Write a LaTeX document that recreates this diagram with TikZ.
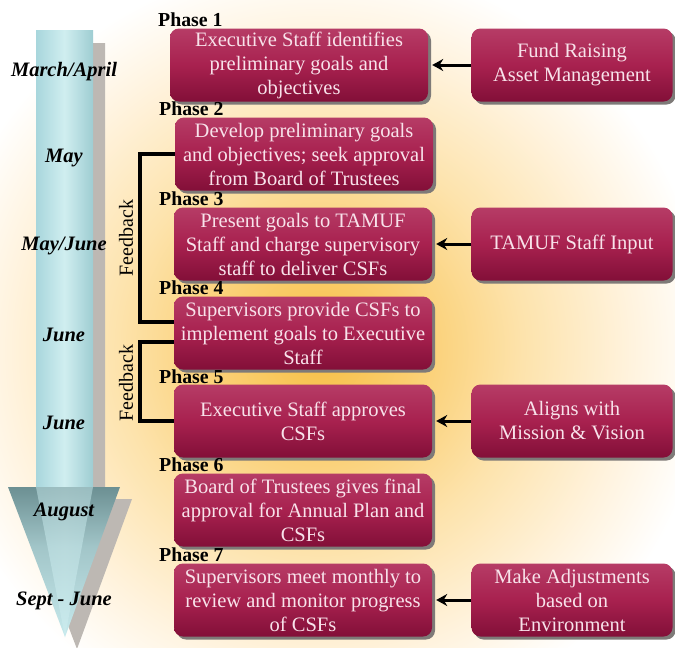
\documentclass[tikz,border=0pt]{standalone}
\usepackage{fontspec}
\setmainfont{Liberation Serif}
\usetikzlibrary{shadows,arrows.meta}

\definecolor{glowA}{HTML}{F7BF45}
\definecolor{glowB}{HTML}{FACE70}
\definecolor{glowC}{HTML}{FDE3AC}
\definecolor{glowD}{HTML}{FFF3DE}
\definecolor{bxtop}{HTML}{B63C66}
\definecolor{bxmid}{HTML}{A8214F}
\definecolor{bxbot}{HTML}{820F38}
\definecolor{bxtext}{HTML}{F8E2EA}
\definecolor{boxshadow}{HTML}{7E7A78}
\definecolor{shaftL}{HTML}{A8D6DC}
\definecolor{shaftM}{HTML}{D0EEF0}
\definecolor{shaftR}{HTML}{9ECDD2}
\definecolor{headtop}{HTML}{6C9093}
\definecolor{headbot}{HTML}{C6E9EC}
\definecolor{arrowshadow}{HTML}{BDB8B3}

% radial glow: 25bp is the edge of the filled circle
\pgfdeclareradialshading{glow}{\pgfpoint{0bp}{0bp}}{%
  color(0bp)=(glowA); color(6bp)=(glowB); color(13bp)=(glowC);
  color(20bp)=(glowD); color(25bp)=(white); color(50bp)=(white)}
% arrow head: darker rim at the top, light towards the tip
\pgfdeclareverticalshading{headshade}{100bp}{%
  color(0bp)=(headbot); color(25bp)=(headbot); color(55bp)=(headbot!60!headtop);
  color(75bp)=(headtop); color(100bp)=(headtop)}

\tikzset{
  boxbase/.style={rounded corners=9pt, minimum height=73pt, inner sep=0pt,
    top color=bxtop, bottom color=bxbot, middle color=bxmid,
    text=bxtext, align=center, font=\fontsize{20.5}{24}\selectfont,
    general shadow={fill=boxshadow, shadow xshift=3pt, shadow yshift=-3pt}},
  phasebox/.style={boxbase, minimum width=258pt},
  sidebox/.style={boxbase, minimum width=201pt},
  phaselbl/.style={anchor=base west, inner sep=0pt, font=\fontsize{19.8}{22}\selectfont\bfseries},
  month/.style={inner sep=0pt, font=\fontsize{20.5}{22}\selectfont\bfseries\itshape},
  fbtext/.style={inner sep=0pt, rotate=90, font=\fontsize{20}{22}\selectfont},
  conn/.style={line width=3pt, -{Stealth[length=11pt,width=12pt]}},
  bracket/.style={line width=3.5pt}
}

\begin{document}
\begin{tikzpicture}[x=1pt,y=-1pt]
\useasboundingbox (0,0) rectangle (675,648);
\clip (0,0) rectangle (675,648);
\fill[white] (0,0) rectangle (675,648);
% warm glow behind the phases
\shade[shading=glow] (320,350) circle (390pt);

% timeline arrow: shadow, shaft, head
\fill[arrowshadow] (48,43) -- (105,43) -- (105,499) -- (132,499) -- (77,649) -- (20,499) -- (48,499) -- cycle;
\shade[left color=shaftL, right color=shaftR, middle color=shaftM]
  (36,30) rectangle (93,488);
\shade[shading=headshade]
  (8,487) -- (120,487) -- (65,637) -- cycle;
\shade[left color=headbot, right color=headbot, middle color=shaftM, opacity=0.5]
  (36,487) -- (93,487) -- (65,637) -- cycle;

% months
\node[month] (m1) at (64,72)  {March/April};
\node[month] (m2) at (64,158) {May};
\node[month] (m3) at (64,246) {May/June};
\node[month] (m4) at (64,335) {June};
\node[month] (m5) at (64,423) {June};
\node[month] (m6) at (64,512) {August};
\node[month] (m7) at (64,601) {Sept - June};

% phase boxes
\node[phasebox] (p1) at (299,65)  {Executive Staff identifies\\preliminary goals and\\objectives};
\node[phasebox] (p2) at (304,154) {Develop preliminary goals\\and objectives; seek approval\\from Board of Trustees};
\node[phasebox] (p3) at (303,244) {Present goals to TAMUF\\Staff and charge supervisory\\staff to deliver CSFs};
\node[phasebox] (p4) at (303,333) {Supervisors provide CSFs to\\implement goals to Executive\\Staff};
\node[phasebox] (p5) at (303,421) {Executive Staff approves\\CSFs};
\node[phasebox] (p6) at (303,510) {Board of Trustees gives final\\approval for Annual Plan and\\CSFs};
\node[phasebox] (p7) at (303,600) {Supervisors meet monthly to\\review and monitor progress\\of CSFs};

% phase labels
\node[phaselbl] (l1) at (158,26)  {Phase 1};
\node[phaselbl] (l2) at (159,115) {Phase 2};
\node[phaselbl] (l3) at (159,205) {Phase 3};
\node[phaselbl] (l4) at (159,294) {Phase 4};
\node[phaselbl] (l5) at (159,383) {Phase 5};
\node[phaselbl] (l6) at (159,471) {Phase 6};
\node[phaselbl] (l7) at (159,561) {Phase 7};

% input boxes
\node[sidebox] (r1) at (572,65)  {Fund Raising\\Asset Management};
\node[sidebox] (r3) at (572,244) {TAMUF Staff Input};
\node[sidebox] (r5) at (572,421) {Aligns with\\Mission \& Vision};
\node[sidebox] (r7) at (572,600) {Make Adjustments\\based on\\Environment};

\draw[conn] (r1.west) -- ([xshift=4pt]p1.east);
\draw[conn] (r3.west) -- ([xshift=4pt]p3.east);
\draw[conn] (r5.west) -- ([xshift=4pt]p5.east);
\draw[conn] (r7.west) -- ([xshift=4pt]p7.east);

% feedback brackets
\coordinate (bx) at (140,0);
\draw[bracket] (p2.west) -- (p2.west -| bx) |- ([yshift=11pt]p4.west);
\draw[bracket] ([yshift=-9pt]p4.west) -- ([yshift=-9pt]p4.west -| bx) |- (p5.west);
\node[fbtext] (fb1) at (126,238) {Feedback};
\node[fbtext] (fb2) at (126,383) {Feedback};
\end{tikzpicture}
\end{document}
